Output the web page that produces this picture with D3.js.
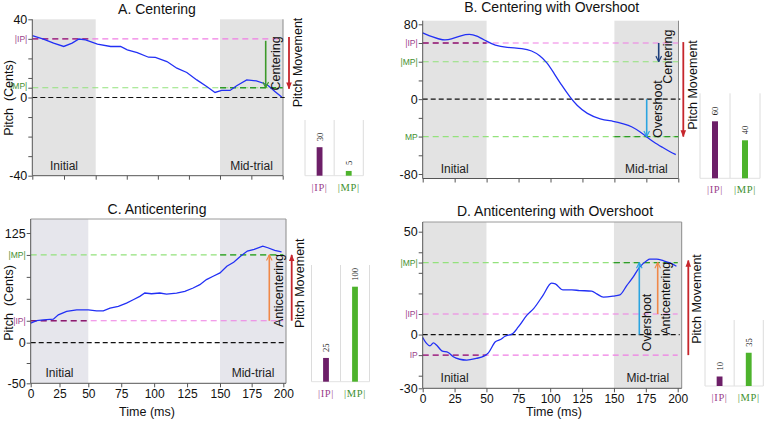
<!DOCTYPE html>
<html>
<head>
<meta charset="utf-8">
<script src="https://cdn.jsdelivr.net/npm/d3@7"></script>
<style>
  body { margin: 0; background: #fff; }
  svg { display: block; font-family: "Liberation Sans", Arial, sans-serif; }
</style>
</head>
<body>
<svg id="fig" width="767" height="424"></svg>
<script>
(function() {

  // ---- data ----
  var titles = ['A. Centering', 'B. Centering with Overshoot', 'C. Anticentering', 'D. Anticentering with Overshoot'];
  var timeTicks = [0, 25, 50, 75, 100, 125, 150, 175, 200];
  var windows = [[0, 50, 'Initial'], [150, 200, 'Mid-trial']];

  var timeA = [0, 8.8, 16.8, 24.8, 31.4, 36.8, 42, 51.4, 62, 70, 75.4, 83.4, 92.5, 98, 107.3, 115.3, 123.3, 131.3, 139.3, 146, 151.3, 158, 163.3, 171.3, 179, 184.6, 188.6, 194, 199.2];
  var pitchA = [31.6, 29.9, 27.8, 26.1, 27.8, 29.9, 29.5, 27.3, 26.1, 26.1, 24.4, 23, 20.6, 20.5, 18.4, 15, 12.8, 9, 5.6, 2.6, 3.6, 3.6, 6, 9, 8.5, 7.3, 6, 3, 0.2];

  var timeB = [0, 7.9, 15.7, 22.3, 30.1, 36.7, 41.9, 49.8, 56.4, 65.5, 78.6, 85.2, 91.7, 97, 102.2, 108.8, 115.3, 120.6, 128.4, 138.9, 149.4, 157.3, 163.8, 170.4, 175.6, 180.9, 187.4, 194, 198];
  var pitchB = [70.9, 66.3, 62.7, 63.8, 68.1, 69.8, 68.1, 62, 57.4, 55.2, 54.2, 52, 46.7, 39.6, 28.9, 14.6, 2.1, -6.8, -15.7, -21.7, -23.5, -26.4, -29.2, -35.3, -40.6, -46, -51.3, -56.7, -59.2];

  var timeC = [0, 5.2, 11, 19.7, 24, 31.2, 39.9, 50, 56.3, 61.4, 66.5, 72.8, 79, 84.1, 89.1, 92.9, 98, 104.3, 109.4, 117, 123.3, 129.6, 134.7, 139.7, 144.8, 150, 155.4, 160.8, 166.2, 171.6, 177, 183.8, 187.8, 193.2, 198.6];
  var pitchC = [22.2, 25.2, 26, 26.8, 31.7, 35.6, 37.5, 37.5, 36.3, 36.3, 39.4, 41.3, 45.1, 48.9, 52.8, 56.6, 55.8, 56.6, 55.4, 56.6, 58.5, 62.3, 66.1, 71.9, 75.7, 79.5, 87.2, 91.7, 98.6, 104.4, 106.3, 110.1, 108.2, 105.1, 103.6];

  var timeD = [0, 3, 5.7, 8.4, 11, 15, 20, 24, 29, 34.5, 42, 48, 51.5, 57, 61, 64.6, 70, 75, 81.6, 87, 94.6, 101, 104, 110, 117, 123, 132.5, 136.5, 141.7, 149.5, 154.7, 160, 165, 170, 175.7, 178, 183.5, 188.7, 194, 199];
  var pitchD = [-1.4, -4.3, -5.5, -4, -5.2, -7.9, -8.7, -10.8, -12, -12.4, -11.6, -10.5, -8.9, -3.5, -2.4, -0.8, 0.2, 3.7, 9.3, 12.6, 19.3, 25, 24.6, 21.7, 21.7, 21.4, 21.1, 19.8, 18.2, 18.7, 19.3, 23.8, 27.9, 32.7, 35.9, 36.7, 36.7, 35.9, 34.8, 33.2];

  // y ticks and the named levels on the y axis
  var yTicksA = [40, 30, 20, 10, 5, 0, -10, -20, -30, -40];
  var yLabelsA = {'40': '40', '30': '|IP|', '5': '|MP|', '0': '0', '-40': '-40'};
  var yTicksB = [80, 60, 40, 20, 0, -20, -40, -60, -80];
  var yLabelsB = {'80': '80', '60': '|IP|', '40': '|MP|', '0': '0', '-40': 'MP', '-80': '-80'};
  var yTicksC = [125, 100, 75, 50, 25, 0, -25, -50];
  var yLabelsC = {'125': '125', '100': '|MP|', '25': '|IP|', '0': '0', '-50': '-50'};
  var yTicksD = [50, 40, 35, 30, 20, 10, 0, -10, -20, -30];
  var yLabelsD = {'50': '50', '35': '|MP|', '10': '|IP|', '0': '0', '-10': 'IP', '-30': '-30'};

  // reference levels: value, kind, time span drawn darker
  var refsA = [[30, 'ip', 0, 45], [5, 'mp', 150, 200], [0, 'zero']];
  var refsB = [[60, 'ip', 0, 50], [40, 'mp'], [0, 'zero'], [-40, 'mp', 150, 200]];
  var refsC = [[100, 'mp', 150, 200], [25, 'ip', 0, 50], [0, 'zero']];
  var refsD = [[35, 'mp', 150, 200], [10, 'ip'], [0, 'zero'], [-10, 'ip', 0, 50]];

  // inset bar charts
  var barLabels = ['|IP|', '|MP|'];
  var barA = [30, 5];
  var barB = [60, 40];
  var barC = [25, 100];
  var barD = [10, 35];

  var colors = {
    blue: '#2230f5', ip: '#f07ee4', ipDark: '#8a1c6c', mp: '#93e27c', mpDark: '#2f9a2a',
    ipText: '#9b3f8c', mpText: '#3f9030', band: '#e3e3e3', bandC: '#e6e6ec',
    red: '#c6262c', green: '#3d9a2a', navy: '#1d3f7c', sky: '#2ba4e0', orange: '#f08848',
    barIP: '#6d1f68', barMP: '#4db32c'
  };

  // ---- layout ----
  var panels = [
    { title: titles[0], time: timeA, pitch: pitchA, yTicks: yTicksA, yLabels: yLabelsA, refs: refsA, bars: barA,
      xDom: [0, 50, 150, 200], xRange: [32.3, 95.7, 220, 282.7], right: 283,
      yDom: [-40, 40], yRange: [175.7, 19.3], top: 19.3, bottom: 175.7, topBorder: false,
      titleAt: [157, 13.5], xLabels: false, yTitleAt: [9, 98], band: colors.band, curve: d3.curveLinear,
      arrows: [{x: 265.7, from: 29, to: 5, color: colors.green}, {x: 289, from: 31, to: 4.5, color: colors.red, solid: true}],
      notes: [['Centering', 276, 63.5], ['Pitch Movement', 298, 62.5]],
      inset: {left: 305, right: 363.3, top: 120, base: 175.7} },
    { title: titles[1], time: timeB, pitch: pitchB, yTicks: yTicksB, yLabels: yLabelsB, refs: refsB, bars: barB,
      xDom: [0, 200], xRange: [422.7, 678.3], right: 678.5,
      yDom: [-80, 80], yRange: [174, 24.3], top: 20.7, bottom: 178.5, topBorder: false,
      titleAt: [551.7, 12], xLabels: false, band: colors.band, curve: d3.curveBasis,
      arrows: [{x: 658.7, from: 60, to: 40, color: colors.navy}, {x: 646.7, from: 0, to: -40, color: colors.sky},
               {x: 683.3, from: 61, to: -40, color: colors.red, solid: true}],
      notes: [['Centering', 667.5, 56.7], ['Overshoot', 657.2, 109], ['Pitch Movement', 692.5, 85]],
      inset: {left: 700, right: 760, top: 93.3, base: 178.3} },
    { title: titles[2], time: timeC, pitch: pitchC, yTicks: yTicksC, yLabels: yLabelsC, refs: refsC, bars: barC,
      xDom: [0, 50, 150, 200], xRange: [30.7, 88.3, 220, 283.3], right: 286,
      yDom: [-50, 0, 125], yRange: [383.3, 342.7, 233], top: 219, bottom: 383.3, topBorder: true,
      titleAt: [157, 213.5], xLabels: true, xTitleAt: [147, 415.5], yTitleAt: [9, 303], band: colors.bandC, curve: d3.curveLinear,
      arrows: [{x: 269.3, from: 25, to: 100, color: colors.orange}, {x: 291.7, from: 25, to: 100, color: colors.red, solid: true}],
      notes: [['Anticentering', 279, 290.5], ['Pitch Movement', 300, 283.3]],
      inset: {left: 311.5, right: 369.5, top: 265, base: 381.7} },
    { title: titles[3], time: timeD, pitch: pitchD, yTicks: yTicksD, yLabels: yLabelsD, refs: refsD, bars: barD,
      xDom: [0, 200], xRange: [422.7, 677.7], right: 681.7,
      yDom: [-30, -20, 50], yRange: [388.3, 375.7, 231.7], top: 222, bottom: 388.3, topBorder: true,
      titleAt: [555, 215.5], xLabels: true, xTitleAt: [554, 415.5], band: colors.band, curve: d3.curveMonotoneX,
      arrows: [{x: 639.3, from: 0, to: 35, color: colors.sky}, {x: 657.7, from: 10, to: 35, color: colors.orange},
               {x: 688.3, from: -10, to: 36, color: colors.red, solid: true}],
      notes: [['Overshoot', 646.7, 322.5], ['Anticentering', 665.8, 298.3], ['Pitch Movement', 696.7, 299]],
      inset: {left: 705, right: 763.3, top: 320, base: 386} }
  ];

  var svg = d3.select('#fig');
  var defs = svg.append('defs');
  var markers = {};

  var marker = function(color, solid) {
    var id = 'm' + color.slice(1) + (solid ? 's' : 'o');
    if (markers[id]) return id;
    var m = defs.append('marker')
      .attr('id', id)
      .attr('viewBox', '0 0 10 10')
      .attr('refX', 9).attr('refY', 5)
      .attr('markerWidth', 7).attr('markerHeight', 7)
      .attr('markerUnits', 'userSpaceOnUse')
      .attr('orient', 'auto');
    if (solid) {
      m.append('path').attr('d', 'M0,1L10,5L0,9Z').attr('fill', color);
    } else {
      m.append('path').attr('d', 'M1,1L9,5L1,9').attr('fill', 'none')
        .attr('stroke', color).attr('stroke-width', 1.6);
    }
    markers[id] = true;
    return id;
  };

  var drawPanel = function(p) {
    var x = d3.scaleLinear().domain(p.xDom).range(p.xRange);
    var y = d3.scaleLinear().domain(p.yDom).range(p.yRange);
    var g = svg.append('g');
    var x0 = x(0);

    // shaded analysis windows
    g.selectAll('rect.band')
      .data(windows)
      .enter().append('rect')
      .attr('class', 'band')
      .attr('x', function(d) { return x(d[0]); })
      .attr('y', p.top)
      .attr('width', function(d) { return (d[1] === 200 ? p.right : x(d[1])) - x(d[0]); })
      .attr('height', p.bottom - p.top)
      .attr('fill', p.band);

    g.selectAll('text.band')
      .data(windows)
      .enter().append('text')
      .attr('x', function(d) { return (x(d[0]) + (d[1] === 200 ? p.right : x(d[1]))) / 2; })
      .attr('y', p.bottom - 6)
      .attr('text-anchor', 'middle')
      .attr('font-size', 12)
      .attr('fill', '#222')
      .text(function(d) { return d[2]; });

    // frame
    g.append('line')
      .attr('x1', p.right).attr('x2', p.right)
      .attr('y1', p.top).attr('y2', p.bottom)
      .attr('stroke', '#8a8a8a').attr('stroke-width', 1);
    if (p.topBorder) {
      g.append('line')
        .attr('x1', x0).attr('x2', p.right)
        .attr('y1', p.top).attr('y2', p.top)
        .attr('stroke', '#9a9a9a').attr('stroke-width', 1);
    }

    // reference levels
    p.refs.forEach(function(r) {
      var yy = y(r[0]);
      if (r[1] === 'zero') {
        g.append('line')
          .attr('x1', x0).attr('x2', x(200) + 2)
          .attr('y1', yy).attr('y2', yy)
          .attr('stroke', '#111').attr('stroke-width', 1.2)
          .attr('stroke-dasharray', '5,3');
        return;
      }
      g.append('line')
        .attr('x1', x0).attr('x2', x(200))
        .attr('y1', yy).attr('y2', yy)
        .attr('stroke', colors[r[1]]).attr('stroke-width', 1.2)
        .attr('stroke-dasharray', '6,4');
      if (r.length > 2) {
        g.append('line')
          .attr('x1', x(r[2])).attr('x2', x(r[3]))
          .attr('y1', yy).attr('y2', yy)
          .attr('stroke', colors[r[1] + 'Dark']).attr('stroke-width', 1.3)
          .attr('stroke-dasharray', '6,4');
      }
    });

    // pitch trace
    var line = d3.line()
      .x(function(d) { return x(d[0]); })
      .y(function(d) { return y(d[1]); })
      .curve(p.curve);
    g.append('path')
      .datum(d3.zip(p.time, p.pitch))
      .attr('d', line)
      .attr('fill', 'none')
      .attr('stroke', colors.blue)
      .attr('stroke-width', 1.3);

    // movement arrows
    p.arrows.forEach(function(a) {
      g.append('line')
        .attr('x1', a.x).attr('x2', a.x)
        .attr('y1', y(a.from)).attr('y2', y(a.to))
        .attr('stroke', a.color)
        .attr('stroke-width', a.solid ? 1.8 : 1.6)
        .attr('marker-end', 'url(#' + marker(a.color, a.solid) + ')');
    });

    g.selectAll('text.note')
      .data(p.notes)
      .enter().append('text')
      .attr('class', 'note')
      .attr('transform', function(d) { return 'translate(' + d[1] + ',' + d[2] + ') rotate(-90)'; })
      .attr('dy', '0.35em')
      .attr('text-anchor', 'middle')
      .attr('font-size', 12.5)
      .attr('fill', '#111')
      .text(function(d) { return d[0]; });

    // axes
    var isName = function(d) { return /[IM]/.test(p.yLabels[String(d)] || ''); };
    var yAxis = d3.axisLeft(y)
      .tickValues(p.yTicks)
      .tickSize(4).tickPadding(1).tickSizeOuter(0)
      .tickFormat(function(d) { return p.yLabels[String(d)] || ''; });
    var ya = g.append('g').attr('transform', 'translate(' + x0 + ',0)').call(yAxis);
    ya.select('.domain').remove();
    ya.selectAll('line').attr('stroke', '#555');
    ya.selectAll('text')
      .attr('font-family', null)
      .attr('font-size', function(d) { return isName(d) ? 8.5 : 12.5; })
      // small names sitting right next to the zero label are nudged upward
      .attr('y', function(d) { return isName(d) && Math.abs(y(d) - y(0)) < 12 ? -2 : 0; })
      .attr('fill', function(d) {
        var t = p.yLabels[String(d)] || '';
        if (t.indexOf('I') >= 0) return colors.ipText;
        if (t.indexOf('M') >= 0) return colors.mpText;
        return '#111';
      });
    g.append('line')
      .attr('x1', x0).attr('x2', x0)
      .attr('y1', p.top).attr('y2', p.bottom)
      .attr('stroke', '#555');

    var xAxis = d3.axisBottom(x)
      .tickValues(timeTicks)
      .tickSize(4).tickPadding(2).tickSizeOuter(0)
      .tickFormat(p.xLabels ? d3.format('d') : function() { return ''; });
    var xa = g.append('g').attr('transform', 'translate(0,' + p.bottom + ')').call(xAxis);
    xa.select('.domain').remove();
    xa.selectAll('line').attr('stroke', '#555');
    xa.selectAll('text').attr('font-family', null).attr('font-size', 12).attr('fill', '#111');
    g.append('line')
      .attr('x1', x0).attr('x2', p.right)
      .attr('y1', p.bottom).attr('y2', p.bottom)
      .attr('stroke', '#555');

    // titles
    g.append('text')
      .attr('x', p.titleAt[0]).attr('y', p.titleAt[1])
      .attr('text-anchor', 'middle')
      .attr('font-size', 14)
      .attr('fill', '#111')
      .text(p.title);
    if (p.xTitleAt) {
      g.append('text')
        .attr('x', p.xTitleAt[0]).attr('y', p.xTitleAt[1])
        .attr('text-anchor', 'middle')
        .attr('font-size', 12.5)
        .attr('fill', '#111')
        .text('Time (ms)');
    }
    if (p.yTitleAt) {
      g.append('text')
        .attr('transform', 'translate(' + p.yTitleAt[0] + ',' + p.yTitleAt[1] + ') rotate(-90)')
        .attr('dy', '0.35em')
        .attr('text-anchor', 'middle')
        .attr('font-size', 12.5)
        .attr('fill', '#111')
        .style('white-space', 'pre')
        .text('Pitch  (Cents)');
    }
  };

  // inset bars of |IP| and |MP|
  var drawBars = function(b, vals) {
    var bx = d3.scaleBand().domain(barLabels).range([b.left, b.right]);
    var h = d3.scaleLinear().domain([0, 100]).range([0, 95]);
    var g = svg.append('g');
    var bw = bx.bandwidth() * 0.2;

    g.selectAll('line.grid')
      .data(barLabels.map(function(c) { return bx(c); }).concat([b.right]))
      .enter().append('line')
      .attr('x1', function(d) { return d; }).attr('x2', function(d) { return d; })
      .attr('y1', b.top).attr('y2', b.base)
      .attr('stroke', '#dcdcdc').attr('stroke-width', 1);
    g.append('line')
      .attr('x1', b.left).attr('x2', b.right)
      .attr('y1', b.base).attr('y2', b.base)
      .attr('stroke', '#e2e2e2');

    g.selectAll('rect.bar')
      .data(vals)
      .enter().append('rect')
      .attr('x', function(d, i) { return bx(barLabels[i]) + bx.bandwidth() / 2 - bw / 2; })
      .attr('y', function(d) { return b.base - h(d); })
      .attr('width', bw)
      .attr('height', function(d) { return h(d); })
      .attr('fill', function(d, i) { return i === 0 ? colors.barIP : colors.barMP; });

    g.selectAll('text.val')
      .data(vals)
      .enter().append('text')
      .attr('transform', function(d, i) {
        return 'translate(' + (bx(barLabels[i]) + bx.bandwidth() / 2) + ',' + (b.base - h(d) - 6) + ') rotate(-90)';
      })
      .attr('dy', '0.35em')
      .attr('font-family', '"Liberation Serif", "DejaVu Serif", serif')
      .attr('font-size', 8.5)
      .attr('fill', '#222')
      .text(function(d) { return d; });

    g.selectAll('text.cat')
      .data(barLabels)
      .enter().append('text')
      .attr('x', function(d) { return bx(d) + bx.bandwidth() / 2; })
      .attr('y', b.base + 15)
      .attr('text-anchor', 'middle')
      .attr('font-family', '"Liberation Serif", "DejaVu Serif", serif')
      .attr('font-size', 10.5)
      .attr('letter-spacing', 0.6)
      .attr('fill', function(d, i) { return i === 0 ? colors.ipText : colors.mpText; })
      .text(function(d) { return d; });
  };

  panels.forEach(function(p) {
    drawPanel(p);
    drawBars(p.inset, p.bars);
  });

})();
</script>
</body>
</html>
